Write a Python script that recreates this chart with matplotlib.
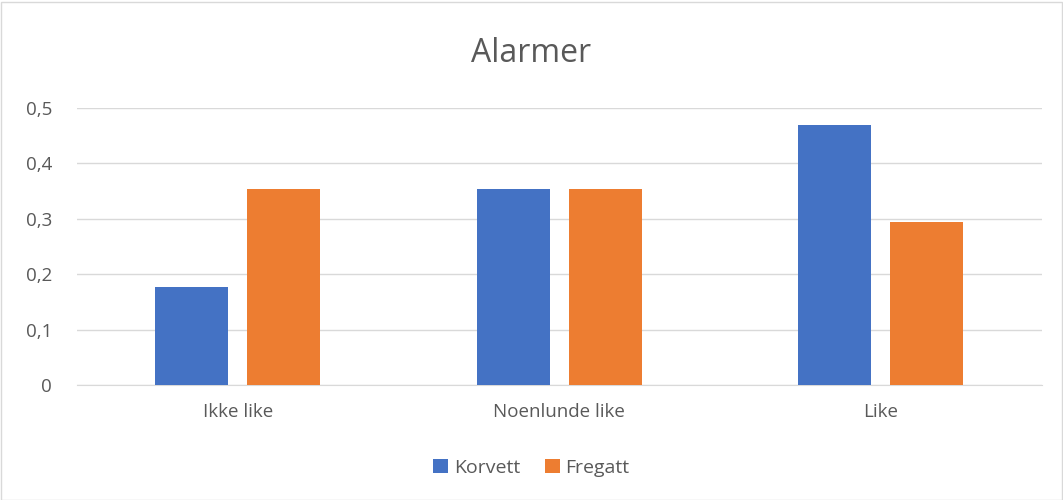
import matplotlib
matplotlib.use("Agg")
import matplotlib.pyplot as plt
import numpy as np
from matplotlib.patches import Rectangle

categories = ["Ikke like", "Noenlunde like", "Like"]
korvett = [0.176, 0.353, 0.47]
fregatt = [0.353, 0.353, 0.294]
yticks = [0, 0.1, 0.2, 0.3, 0.4, 0.5]
ytick_labels = ["0", "0,1", "0,2", "0,3", "0,4", "0,5"]

plt.rcParams['font.family'] = ['Open Sans', 'DejaVu Sans']
fig = plt.figure(figsize=(10.63, 5.0), dpi=100)
fig.patches.append(Rectangle((0.001, 0.001), 0.998, 0.996, transform=fig.transFigure,
                             fill=False, edgecolor="#D9D9D9", linewidth=1))
ax = fig.add_axes([0.0725, 0.23, 0.9074, 0.554])

x = np.arange(len(categories))
w = 0.227
off = 0.143
ax.bar(x - off, korvett, w, color="#4472C4", label="Korvett", zorder=3)
ax.bar(x + off, fregatt, w, color="#ED7D31", label="Fregatt", zorder=3)

ax.set_xlim(-0.5, 2.5)
ax.set_ylim(0, 0.5)
ax.set_yticks(yticks)
ax.set_yticklabels(ytick_labels)
ax.set_xticks(x)
ax.set_xticklabels(categories)
ax.grid(axis="y", color="#D9D9D9", linewidth=1, zorder=0)
for s in ["top", "right", "left"]:
    ax.spines[s].set_visible(False)
ax.spines["bottom"].set_color("#D9D9D9")
ax.tick_params(axis="both", length=0, labelsize=13.5, labelcolor="#595959")
ax.tick_params(axis="y", pad=18)
ax.tick_params(axis="x", pad=13)

fig.text(0.5, 0.893, "Alarmer", ha="center", va="center", fontsize=23, color="#595959")
fig.legend(loc="center", bbox_to_anchor=(0.5, 0.064), ncol=2, frameon=False,
           fontsize=14, labelcolor="#595959", handlelength=0.75, handleheight=0.75,
           handletextpad=0.3, columnspacing=1.3)

fig.savefig("out.png", dpi=100)
